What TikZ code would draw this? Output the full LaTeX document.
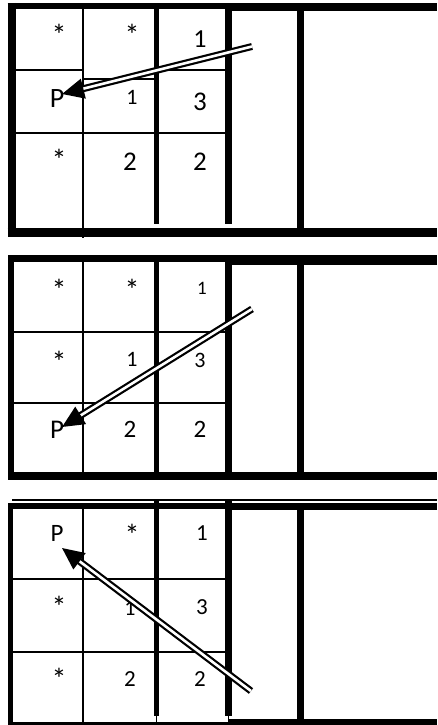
\documentclass[tikz,border=0pt]{standalone}
\usepackage{fontspec}
\setmainfont{Carlito}
\usetikzlibrary{arrows.meta}
\tikzset{
  border/.style={line width=#1, line cap=butt},
  thinline/.style={line width=1.3pt},
  lbl/.style={anchor=base, inner sep=0pt, font=\fontsize{#1}{#1}\selectfont},
  star/.style={anchor=base, inner sep=0pt, font=\fontsize{30}{30}\selectfont},
  dblarrow/.style={double, line width=2.2pt, double distance=2.6pt,
    -{Triangle[length=22pt,width=20pt]}}
}
\begin{document}
\begin{tikzpicture}[x=1pt,y=-1pt]
\useasboundingbox (0,0) rectangle (437,725);
\fill[white] (0,0) rectangle (437,725);
% ================= Panel 1 =================
\draw[border=8pt] (11.5,3) -- (11.5,236.5);
\draw[border=6pt] (7.5,6) -- (437,6);
\draw[border=7pt] (228,7.5) -- (437,7.5);
\draw[border=9pt] (7.5,232) -- (437,232);
\draw[thinline] (83,6) -- (83,238);
\draw[border=5.3pt] (156.7,6) -- (156.7,224);
\draw[border=6.5pt] (228.5,6) -- (228.5,224);
\draw[border=7pt] (300,6) -- (300,232);
\draw[thinline] (15,70) -- (83,70);
\draw[thinline] (83,79) -- (156,79);
\draw[thinline] (157,70) -- (228,70);
\draw[thinline] (15,133) -- (228,133);
\node[star] (a1) at (59,45.5) {*};
\node[star] (a2) at (132,45.5) {*};
\node[lbl=26] (a3) at (200,47.2) {1};
\node[lbl=28] (a4) at (57,107) {P};
\node[lbl=22] (a5) at (132,104) {1};
\node[lbl=27] (a6) at (200,110.5) {3};
\node[star] (a7) at (59,170.5) {*};
\node[lbl=27] (a8) at (130,170.5) {2};
\node[lbl=27] (a9) at (200,170.5) {2};
\coordinate (s1) at (252,46.5);
\coordinate (t1) at (62,94);
\draw[dblarrow] (s1) -- (t1);
% ================= Panel 2 =================
\draw[border=6pt] (11,255) -- (11,480);
\draw[border=7pt] (8,258.5) -- (437,258.5);
\draw[border=10pt] (228,260) -- (437,260);
\draw[border=8pt] (8,476) -- (437,476);
\draw[thinline] (83,258) -- (83,476);
\draw[border=5.3pt] (156.7,258) -- (156.7,476);
\draw[border=6.5pt] (228.5,258) -- (228.5,476);
\draw[border=7pt] (300,258) -- (300,476);
\draw[thinline] (14,332) -- (228,332);
\draw[thinline] (14,403) -- (228,403);
\node[star] (b1) at (59,300.5) {*};
\node[star] (b2) at (132,300.5) {*};
\node[lbl=19] (b3) at (202,294) {1};
\node[star] (b4) at (59,372.5) {*};
\node[lbl=22] (b5) at (132,366) {1};
\node[lbl=22] (b6) at (200,367) {3};
\node[lbl=27] (b7) at (57,438.7) {P};
\node[lbl=25] (b8) at (130,437) {2};
\node[lbl=25] (b9) at (200,437) {2};
\coordinate (s2) at (252,309);
\coordinate (t2) at (62,427);
\draw[dblarrow] (s2) -- (t2);
% ================= Panel 3 =================
\draw[line width=1.5pt] (12,500) -- (437,500);
\draw[border=6pt] (8,506) -- (437,506);
\draw[border=6pt] (228,507) -- (437,507);
\draw[border=5pt] (10.5,503) -- (10.5,725);
\draw[border=4pt] (8,724) -- (228,724);
\draw[border=6pt] (228,722) -- (437,722);
\draw[thinline] (83,506) -- (83,724);
\draw[border=5.3pt] (156.7,499) -- (156.7,716);
\draw[thinline] (156.7,716) -- (156.7,724);
\draw[border=6.5pt] (228.5,499) -- (228.5,716);
\draw[thinline] (228.5,716) -- (228.5,724);
\draw[border=7pt] (300,506) -- (300,722);
\draw[thinline] (13,579) -- (228,579);
\draw[thinline] (13,652) -- (228,652);
\node[lbl=25] (c1) at (57,541) {P};
\node[star] (c2) at (132,545.5) {*};
\node[lbl=23] (c3) at (202,540.3) {1};
\node[star] (c4) at (59,617.5) {*};
\node[lbl=22] (c5) at (130,615) {1};
\node[lbl=23] (c6) at (202,614.3) {3};
\node[star] (c7) at (59,689.5) {*};
\node[lbl=23] (c8) at (130,686.3) {2};
\node[lbl=23] (c9) at (200,686.3) {2};
\coordinate (s3) at (251,691);
\coordinate (t3) at (62,548);
\draw[dblarrow] (s3) -- (t3);
\end{tikzpicture}
\end{document}
